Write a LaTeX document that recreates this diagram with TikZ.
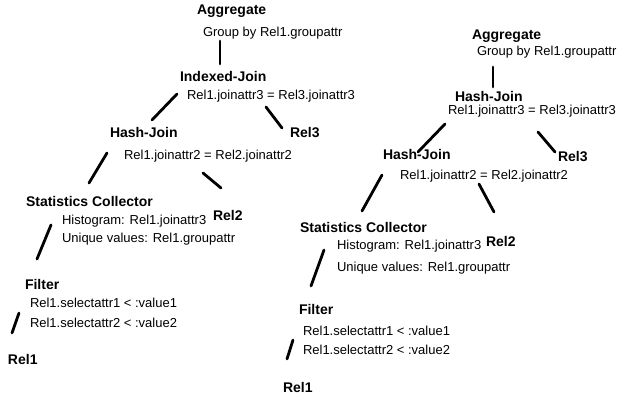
\documentclass[tikz,border=0pt]{standalone}
\usepackage{fontspec}
\setmainfont{Liberation Sans}
\begin{document}
\begin{tikzpicture}[x=1pt,y=-1pt,
  op/.style={anchor=base west,inner sep=0pt,outer sep=0pt,font=\bfseries\fontsize{14}{16}\selectfont},
  arg/.style={anchor=base west,inner sep=0pt,outer sep=0pt,font=\fontsize{13}{15}\selectfont},
  edge/.style={line width=2.8pt,line cap=round}]
\useasboundingbox (0,0) rectangle (624,395);

% ---------- plan with indexed join ----------
\node[op]  (aggA)  at (197,15)  {Aggregate};
\node[arg] (aggAt) at (203,37)  {Group by Rel1.groupattr};
\node[op]  (ijA)   at (180,82)  {Indexed-Join};
\node[arg] (ijAt)  at (187,100) {Rel1.joinattr3 = Rel3.joinattr3};
\node[op]  (hjA)   at (110,138) {Hash-Join};
\node[arg] (hjAt)  at (124,160) {Rel1.joinattr2 = Rel2.joinattr2};
\node[op]  (r3A)   at (290,138) {Rel3};
\node[op]  (scA)   at (26,207)  {Statistics Collector};
\node[arg] (scAh)  at (62,225)  {Histogram: Rel1.joinattr3};
\node[arg] (scAu)  at (62,243)  {Unique values: Rel1.groupattr};
\node[op]  (r2A)   at (213,221) {Rel2};
\node[op]  (fA)    at (25,290)  {Filter};
\node[arg] (fAa)   at (30,308)  {Rel1.selectattr1 < :value1};
\node[arg] (fAb)   at (30,328)  {Rel1.selectattr2 < :value2};
\node[op]  (r1A)   at (8,365)   {Rel1};

\coordinate (a1s) at (220,41);  \coordinate (a1e) at (220,64);
\coordinate (a2s) at (177,94);  \coordinate (a2e) at (152,120);
\coordinate (a3s) at (266,107); \coordinate (a3e) at (282,128);
\coordinate (a4s) at (107,153); \coordinate (a4e) at (89,183);
\coordinate (a5s) at (203,173); \coordinate (a5e) at (221,188);
\coordinate (a6s) at (51,225);  \coordinate (a6e) at (37,259);
\coordinate (a7s) at (19,313);  \coordinate (a7e) at (12,333);
\foreach \e in {a1,a2,a3,a4,a5,a6,a7}
  \draw[edge] (\e s) -- (\e e);

% ---------- plan with hash join ----------
\node[op]  (aggB)  at (472,40)  {Aggregate};
\node[arg] (aggBt) at (477,56)  {Group by Rel1.groupattr};
\node[op]  (hjB)   at (455,102) {Hash-Join};
\node[arg] (hjBt)  at (448,115) {Rel1.joinattr3 = Rel3.joinattr3};
\node[op]  (hjC)   at (383,160) {Hash-Join};
\node[arg] (hjCt)  at (400,180) {Rel1.joinattr2 = Rel2.joinattr2};
\node[op]  (r3B)   at (558,162) {Rel3};
\node[op]  (scB)   at (300,233) {Statistics Collector};
\node[arg] (scBh)  at (337,250) {Histogram: Rel1.joinattr3};
\node[arg] (scBu)  at (337,272) {Unique values: Rel1.groupattr};
\node[op]  (r2B)   at (486,247) {Rel2};
\node[op]  (fB)    at (299,315) {Filter};
\node[arg] (fBa)   at (303,336) {Rel1.selectattr1 < :value1};
\node[arg] (fBb)   at (303,355) {Rel1.selectattr2 < :value2};
\node[op]  (r1B)   at (283,392) {Rel1};

\coordinate (b1s) at (493,67);  \coordinate (b1e) at (493,87);
\coordinate (b2s) at (445,124); \coordinate (b2e) at (418,152);
\coordinate (b3s) at (538,132); \coordinate (b3e) at (555,152);
\coordinate (b4s) at (382,175); \coordinate (b4e) at (362,211);
\coordinate (b5s) at (479,184); \coordinate (b5e) at (494,212);
\coordinate (b6s) at (324,250); \coordinate (b6e) at (311,286);
\coordinate (b7s) at (293,340); \coordinate (b7e) at (287,359);
\foreach \e in {b1,b2,b3,b4,b5,b6,b7}
  \draw[edge] (\e s) -- (\e e);
\end{tikzpicture}
\end{document}
